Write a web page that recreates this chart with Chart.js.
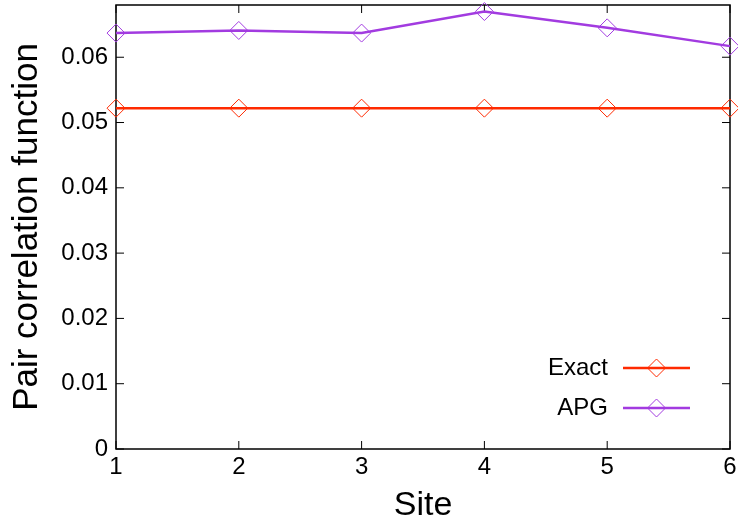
<!DOCTYPE html>
<html>
<head>
    <meta charset="utf-8">
    <title>Pair correlation function</title>
    <script src="https://cdn.jsdelivr.net/npm/chart.js"></script>
    <style>
        html, body { margin: 0; padding: 0; background: #fff; }
        #wrap { width: 738px; height: 530px; }
    </style>
</head>
<body>
    <div id="wrap"><canvas id="pcf"></canvas></div>
    <script>
        // data
        var sites = ['1', '2', '3', '4', '5', '6'];
        var exactVals = [0.0522, 0.0522, 0.0522, 0.0522, 0.0522, 0.0522];
        var apgVals = [0.0637, 0.0641, 0.0637, 0.0670, 0.0645, 0.0617];
        var yTicks = [0, 0.01, 0.02, 0.03, 0.04, 0.05, 0.06];

        var FONT = "'Liberation Sans', Arial, Helvetica, sans-serif";

        // gnuplot style frame with inward ticks on all sides + legend inside
        var framePlugin = {
            id: 'frame',
            beforeDatasetsDraw: function (chart) {
                var ctx = chart.ctx, a = chart.chartArea;
                var xs = chart.scales.x, ys = chart.scales.y;
                var tl = 8;
                ctx.save();
                ctx.strokeStyle = '#000';
                ctx.lineWidth = 1.5;
                ctx.strokeRect(a.left, a.top, a.right - a.left, a.bottom - a.top);
                ctx.lineWidth = 1;
                ctx.beginPath();
                sites.forEach(function (s, i) {
                    var px = xs.getPixelForValue(i);
                    ctx.moveTo(px, a.bottom); ctx.lineTo(px, a.bottom - tl);
                    ctx.moveTo(px, a.top); ctx.lineTo(px, a.top + tl);
                });
                yTicks.forEach(function (v) {
                    var py = ys.getPixelForValue(v);
                    ctx.moveTo(a.left, py); ctx.lineTo(a.left + tl, py);
                    ctx.moveTo(a.right, py); ctx.lineTo(a.right - tl, py);
                });
                ctx.stroke();
                ctx.restore();
            },
            afterDatasetsDraw: function (chart) {
                var ctx = chart.ctx, a = chart.chartArea;
                ctx.save();
                ctx.font = '24px ' + FONT;
                ctx.textAlign = 'right';
                ctx.textBaseline = 'middle';
                chart.data.datasets.forEach(function (ds, i) {
                    var y = a.bottom - 81 + i * 40;
                    var x0 = a.right - 107, x1 = a.right - 40;
                    var cx = (x0 + x1) / 2, r = ds.pointRadius;
                    ctx.fillStyle = '#000';
                    ctx.fillText(ds.label, a.right - 122, y);
                    ctx.strokeStyle = ds.borderColor;
                    ctx.lineWidth = ds.borderWidth;
                    ctx.beginPath();
                    ctx.moveTo(x0, y); ctx.lineTo(x1, y);
                    ctx.stroke();
                    ctx.strokeStyle = ds.pointBorderColor;
                    ctx.lineWidth = 1;
                    ctx.beginPath();
                    ctx.moveTo(cx - r, y); ctx.lineTo(cx, y - r);
                    ctx.lineTo(cx + r, y); ctx.lineTo(cx, y + r);
                    ctx.closePath();
                    ctx.stroke();
                });
                ctx.restore();
            }
        };

        var ctx = document.getElementById('pcf').getContext('2d');
        var pcfChart = new Chart(ctx, {
            type: 'line',
            data: {
                labels: sites,
                datasets: [{
                    label: 'Exact',
                    data: exactVals,
                    borderColor: '#ff2a00',
                    pointBorderColor: '#ff2a00',
                    pointBackgroundColor: 'rgba(0,0,0,0)',
                    borderWidth: 2.5,
                    pointStyle: 'rectRot',
                    pointRadius: 9,
                    pointBorderWidth: 1,
                    tension: 0
                }, {
                    label: 'APG',
                    data: apgVals,
                    borderColor: '#a23be0',
                    pointBorderColor: '#a23be0',
                    pointBackgroundColor: 'rgba(0,0,0,0)',
                    borderWidth: 2.5,
                    pointStyle: 'rectRot',
                    pointRadius: 9,
                    pointBorderWidth: 1,
                    tension: 0
                }]
            },
            options: {
                responsive: true,
                maintainAspectRatio: false,
                animation: false,
                clip: false,
                layout: { autoPadding: false, padding: { top: 5, right: 8 } },
                plugins: {
                    legend: { display: false },
                    tooltip: { enabled: false }
                },
                scales: {
                    x: {
                        type: 'category',
                        offset: false,
                        grid: { display: false, drawTicks: false },
                        border: { display: false },
                        ticks: {
                            color: '#000',
                            font: { family: FONT, size: 24 },
                            padding: 4,
                            maxRotation: 0
                        },
                        title: {
                            display: true,
                            text: 'Site',
                            color: '#000',
                            font: { family: FONT, size: 34 },
                            padding: { top: 2 }
                        },
                        afterFit: function (scale) {
                            scale.height = 81;
                            scale.paddingLeft = 0;
                            scale.paddingRight = 0;
                        }
                    },
                    y: {
                        min: 0,
                        max: 0.068,
                        grid: { display: false, drawTicks: false },
                        border: { display: false },
                        afterBuildTicks: function (scale) {
                            scale.ticks = yTicks.map(function (v) { return { value: v }; });
                        },
                        ticks: {
                            color: '#000',
                            font: { family: FONT, size: 24 },
                            padding: 8,
                            callback: function (v) { return v === 0 ? '0' : v.toFixed(2); }
                        },
                        title: {
                            display: true,
                            text: 'Pair correlation function',
                            color: '#000',
                            font: { family: FONT, size: 35 },
                            padding: { top: 6, bottom: 0 }
                        },
                        afterFit: function (scale) {
                            scale.width = 116;
                            scale.paddingTop = 0;
                            scale.paddingBottom = 0;
                        }
                    }
                }
            },
            plugins: [framePlugin]
        });
    </script>
</body>
</html>
